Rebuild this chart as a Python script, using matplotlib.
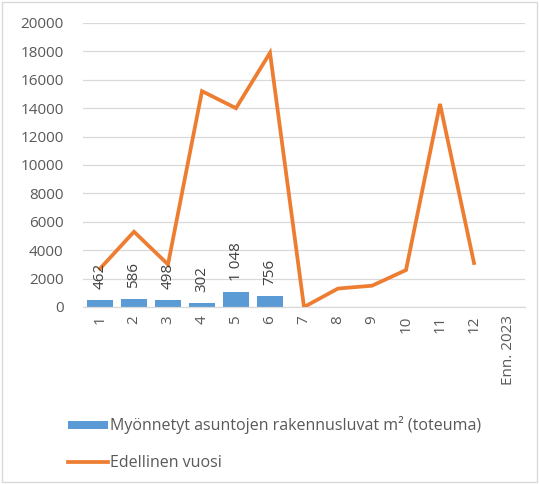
import matplotlib

matplotlib.use("Agg")
import matplotlib.pyplot as plt
from matplotlib.patches import Patch, Rectangle
from matplotlib.lines import Line2D

# values
categories = ["1", "2", "3", "4", "5", "6", "7", "8", "9", "10", "11", "12", "Enn. 2023"]
granted = [462, 586, 498, 302, 1048, 756]
granted_labels = ["462", "586", "498", "302", "1 048", "756"]
previous_year = [2700, 5300, 3000, 15200, 14000, 17900, 0, 1300, 1500, 2600, 14300, 3100]
yticks = [0, 2000, 4000, 6000, 8000, 10000, 12000, 14000, 16000, 18000, 20000]

blue = "#5B9BD5"
orange = "#ED7D31"
text_grey = "#595959"

plt.rcParams["font.family"] = ["Open Sans", "DejaVu Sans"]

fig = plt.figure(figsize=(5.39, 4.84), dpi=100)
ax = fig.add_axes([83 / 539, 1 - 307 / 484, 442 / 539, 284 / 484])

x_all = list(range(len(categories)))
bars = ax.bar(x_all[:len(granted)], granted, width=0.76, color=blue, zorder=2)
for rect, lab in zip(bars, granted_labels):
    ax.annotate(lab, (rect.get_x() + rect.get_width() / 2, rect.get_height()),
                xytext=(0, 8), textcoords="offset points", rotation=90,
                ha="center", va="bottom", fontsize=11, color="#404040", zorder=4)

ax.plot(x_all[:len(previous_year)], previous_year, color=orange, linewidth=2.7,
        solid_joinstyle="miter", zorder=3)

ax.set_xlim(-0.5, len(categories) - 0.5)
ax.set_ylim(0, 20000)
ax.set_yticks(yticks)
ax.set_yticklabels([str(v) for v in yticks])
ax.set_xticks(x_all)
ax.set_xticklabels(categories, rotation=90)
ax.tick_params(axis="both", length=0, labelsize=11, labelcolor=text_grey)
ax.tick_params(axis="y", pad=14)
ax.tick_params(axis="x", pad=6)
ax.grid(axis="y", color="#D9D9D9", linewidth=0.9, zorder=0)
ax.set_axisbelow(True)
for side in ["top", "right", "left"]:
    ax.spines[side].set_visible(False)
ax.spines["bottom"].set_color("#D9D9D9")
ax.spines["bottom"].set_linewidth(0.9)

handles = [
    Patch(facecolor=blue, edgecolor="none"),
    Line2D([0], [0], color=orange, linewidth=2.7),
]
labels = ["Myönnetyt asuntojen rakennusluvat m² (toteuma)", "Edellinen vuosi"]
fig.legend(handles, labels, loc="upper left", bbox_to_anchor=(62 / 539, 1 - 410 / 484),
           frameon=False, fontsize=11.5, labelcolor=text_grey, handlelength=2.5,
           handleheight=0.4, handletextpad=0.1, labelspacing=1.3, borderaxespad=0)

fig.patches.append(Rectangle((0.004, 0.004), 0.992, 0.992, transform=fig.transFigure,
                             fill=False, edgecolor="#D9D9D9", linewidth=1))

fig.savefig("out.png", dpi=100)
